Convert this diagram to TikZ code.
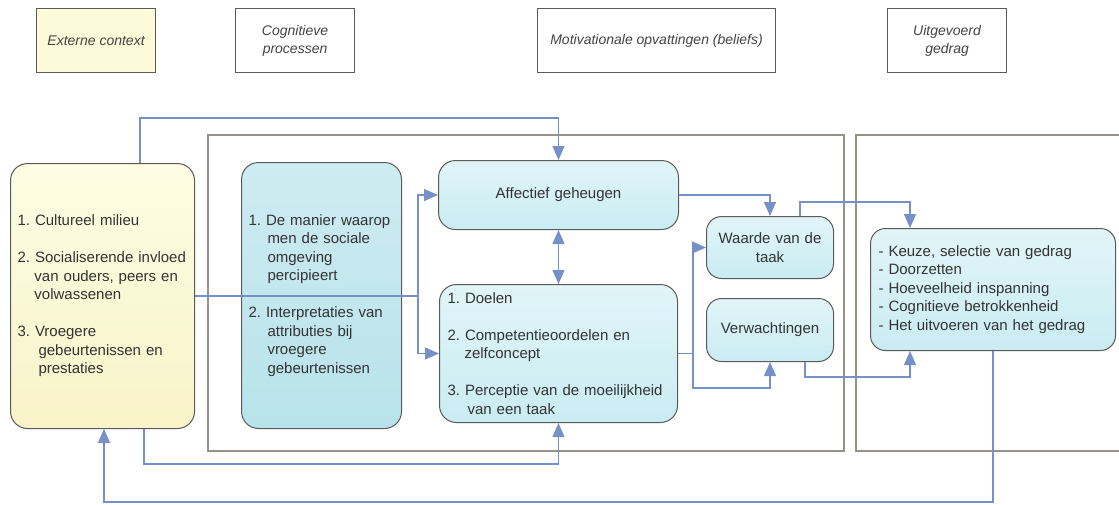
\documentclass[tikz,border=0pt]{standalone}
\usepackage{fontspec}
\setmainfont{Liberation Sans}
\usetikzlibrary{arrows.meta,calc}

\definecolor{linkblue}{HTML}{7690C8}
\definecolor{edge}{HTML}{5A5A5A}
\definecolor{framegray}{HTML}{96928A}
\definecolor{txt}{HTML}{333333}
\definecolor{hdrtxt}{HTML}{444444}
\definecolor{yeltop}{HTML}{FEFDE4}
\definecolor{yelbot}{HTML}{F8F3C8}
\definecolor{cyantop}{HTML}{E2F5F8}
\definecolor{cyanbot}{HTML}{C9ECF2}
\definecolor{cogtop}{HTML}{CDECF1}
\definecolor{cogbot}{HTML}{B8E2EA}
\definecolor{hdryellow}{HTML}{FCFAD8}

% hanging indent for continuation lines of numbered items
\newcommand\hind{\hspace*{17pt}}

\tikzset{
  hdrbox/.style={draw=edge, line width=1.1pt, anchor=north west,
    minimum height=64pt, align=center, text=hdrtxt,
    font=\fontsize{14}{18}\selectfont\itshape},
  roundbox/.style={draw=edge, line width=1pt, rounded corners=15pt,
    anchor=north west, inner xsep=8pt, inner ysep=4pt, text=txt,
    top color=cyantop, bottom color=cyanbot,
    font=\fontsize{15}{18.5}\selectfont\frenchspacing},
  frame/.style={draw=framegray, line width=1.1pt},
  link/.style={draw=linkblue, line width=1.3pt},
  arr/.style={link, -{Triangle[length=14pt,width=12pt]}},
  dblarr/.style={link, {Triangle[length=14pt,width=12pt]}-{Triangle[length=14pt,width=12pt]}}
}

\begin{document}
\begin{tikzpicture}[x=1pt,y=-1pt]
\useasboundingbox (0,0) rectangle (1119,504);
\clip (0,0) rectangle (1119,504);
\fill[white] (0,0) rectangle (1119,504);

% column headings
\node[hdrbox, fill=hdryellow, minimum width=119pt] (hext) at (36,8) {Externe context};
\node[hdrbox, minimum width=119pt] (hcog) at (235,8) {Cognitieve\\processen};
\node[hdrbox, minimum width=238pt] (hmot) at (537,8) {Motivationale opvattingen (beliefs)};
\node[hdrbox, minimum width=119pt] (hged) at (887,8) {Uitgevoerd\\gedrag};

% group frames
\draw[frame] (208,135) rectangle (844,451);
\draw[frame] (856,135) rectangle (1135,451);

% external context
\node[roundbox, top color=yeltop, bottom color=yelbot, rounded corners=17pt,
      inner xsep=7pt, text width=170pt, minimum height=265pt, align=left] (yel) at (10,163)
  {1. Cultureel milieu\\[18.5pt]
   2. Socialiserende invloed\\\hind van ouders, peers en\\\hind volwassenen\\[18.5pt]
   3. Vroegere\\\hspace*{21pt}gebeurtenissen en\\\hspace*{21pt}prestaties};

% cognitive processes
\node[roundbox, top color=cogtop, bottom color=cogbot, rounded corners=17pt,
      inner xsep=7pt, text width=146pt, minimum height=266pt, align=left] (cog) at (241,162)
  {1. De manier waarop\\\hspace*{19pt}men de sociale\\\hspace*{19pt}omgeving\\\hspace*{19pt}percipieert\\[18.5pt]
   2. Interpretaties van\\\hspace*{19pt}attributies bij\\\hspace*{19pt}vroegere\\\hspace*{19pt}gebeurtenissen};

% motivational beliefs
\node[roundbox, rounded corners=17pt, text width=224pt, minimum height=69pt, align=center] (aff) at (438,160)
  {Affectief geheugen};
\node[roundbox, rounded corners=17pt, inner xsep=8pt, text width=222pt, minimum height=138pt, align=left] (doel) at (439,284)
  {1. Doelen\\[18.5pt]
   2. Competentieoordelen en\\\hind zelfconcept\\[18.5pt]
   3. Perceptie van de moeilijkheid\\\hspace*{20pt}van een taak};
\node[roundbox, text width=111pt, minimum height=62pt, align=center] (wrd) at (706,216)
  {Waarde van de\\taak};
\node[roundbox, text width=111pt, minimum height=63pt, align=center] (verw) at (706,298)
  {Verwachtingen};

% performed behaviour
\node[roundbox, text width=229pt, minimum height=122pt, align=left] (ged) at (870,228)
  {- Keuze, selectie van gedrag\\- Doorzetten\\- Hoeveelheid inspanning\\- Cognitieve betrokkenheid\\- Het uitvoeren van het gedrag};

% bend points of the connectors
\coordinate (ytop) at (140,118);
\coordinate (ysplit) at (418,296);
\coordinate (ybot) at (144,464);
\coordinate (dsplit) at (693,353);
\coordinate (dlow) at (693,388);
\coordinate (wup) at (800,202);
\coordinate (gup) at (910,202);
\coordinate (vlow) at (805,377);
\coordinate (glow) at (910,377);
\coordinate (fbr) at (993,502);
\coordinate (fbl) at (104,502);

% context -> affective memory (over the top)
\draw[arr] (yel.north -| ytop) -- (ytop) -| (aff.north);
% context -> affective memory and goals (through the middle)
\draw[link] (yel.east |- ysplit) -- (ysplit);
\draw[arr] (ysplit) |- (aff.west);
\draw[arr] (ysplit) |- (doel.west);
% affective memory <-> goals
\draw[dblarr] (aff.south) -- (doel.north);
% context -> goals (underneath)
\draw[arr] (yel.south -| ybot) -- (ybot) -| (doel.south);
% affective memory -> task value
\draw[arr] (aff.east) -| (wrd.north);
% goals -> task value and expectations
\draw[link] (doel.east) -- (doel.east -| dsplit);
\draw[arr] (dsplit) |- (wrd.west);
\draw[arr] (dsplit) -- (dlow) -| (verw.south);
% task value -> behaviour
\draw[arr] (wrd.north -| wup) -- (wup) -- (gup) -- (ged.north -| gup);
% expectations -> behaviour
\draw[arr] (verw.south -| vlow) -- (vlow) -- (glow) -- (ged.south -| glow);
% behaviour feeds back into the context
\draw[arr] (ged.south -| fbr) -- (fbr) -- (fbl) -- (yel.south -| fbl);
\end{tikzpicture}
\end{document}
